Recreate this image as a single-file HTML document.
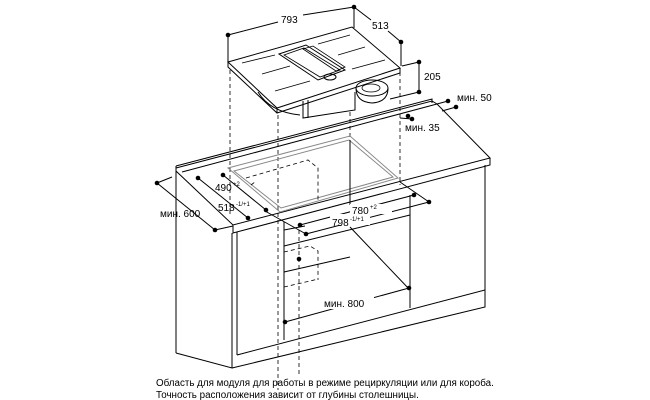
<!DOCTYPE html>
<html><head><meta charset="utf-8"><style>
html,body{margin:0;padding:0;background:#fff;width:650px;height:400px;overflow:hidden}
svg{display:block}
text{font-family:"Liberation Sans",sans-serif;font-size:10px;fill:#000}
.l{stroke:#000;stroke-width:1;fill:none}
.g{stroke:#888;stroke-width:1;fill:none}
.d{stroke:#000;stroke-width:0.8;fill:none;stroke-dasharray:4,3}
.t{stroke:#000;stroke-width:0.8;fill:none}
</style></head><body>
<svg width="650" height="400" viewBox="0 0 650 400">
<line class="d" x1="230" y1="70" x2="230" y2="215"/>
<line class="d" x1="278" y1="115" x2="278" y2="390"/>
<line class="d" x1="350" y1="112" x2="350" y2="140"/>
<line class="d" x1="400" y1="72" x2="400" y2="185"/>
<line class="d" x1="299" y1="230" x2="299" y2="375"/>

<polygon class="l" fill="#fff" points="228,62 352,27 400,68 277,108"/>
<polyline class="l" points="228,62 228,67 277,113 400,73 400,68"/>
<line class="l" x1="277" y1="108" x2="277" y2="113"/>
<line class="t" x1="242" y1="63" x2="275" y2="55"/>
<line class="t" x1="262" y1="74" x2="290" y2="66"/>
<line class="t" x1="275" y1="91" x2="310" y2="81"/>
<line class="t" x1="318" y1="44" x2="350" y2="35"/>
<line class="t" x1="338" y1="55" x2="365" y2="47"/>
<line class="t" x1="352" y1="69" x2="385" y2="60"/>
<polygon class="l" points="279,54 306,45 345,70 318,80"/>
<polygon class="t" points="284,55 304,48 340,70 320,77"/>
<polygon class="t" points="303,49 313,46 345,67 336,71"/>
<ellipse class="l" cx="330" cy="77" rx="6" ry="3" fill="#fff"/>
<path class="l" d="M258,92 Q270,112 300,115"/>
<polyline class="l" points="303,101 303,118 355,110 355,92"/>
<line class="l" x1="308" y1="100" x2="308" y2="118"/>
<ellipse class="l" cx="372" cy="88" rx="16" ry="8" fill="#fff"/>
<path class="l" d="M356,88 Q356,102 372,103 Q388,102 388,88"/>
<ellipse class="t" cx="371" cy="88" rx="9" ry="4"/>

<line class="l" x1="228" y1="35" x2="228" y2="62"/>
<line class="l" x1="354" y1="7" x2="354" y2="28"/>
<line class="l" x1="401" y1="42" x2="401" y2="66"/>
<line class="l" x1="228" y1="35" x2="278" y2="22"/>
<line class="l" x1="303" y1="15" x2="354" y2="7"/>
<line class="l" x1="354" y1="7" x2="371" y2="20"/>
<line class="l" x1="388" y1="31" x2="401" y2="42"/>
<text x="281" y="23">793</text>
<text x="372" y="29">513</text>
<line class="l" x1="419" y1="62" x2="419" y2="92"/>
<line class="l" x1="402" y1="66" x2="419" y2="62"/>
<line class="l" x1="390" y1="99" x2="419" y2="92"/>
<text x="424" y="80">205</text>

<polygon class="l" fill="#fff" points="176,168 432,101 437,104 490,158 233,225 176,171"/>
<polyline class="l" points="176,166 432,99 432,103"/>
<line class="l" x1="176" y1="166" x2="176" y2="171"/>
<polyline class="l" points="182,172 437,104"/>
<polyline class="l" points="233,225 233,233 490,165 490,158"/>
<polygon class="g" points="228,168 350,136 398,178 280,212" stroke-width="1.5"/>
<polygon class="g" points="234,171 349,140 393,177 281,208"/>
<line class="l" x1="350" y1="140" x2="350" y2="205"/>
<polyline class="d" points="246,178 308,160 318,168 318,200"/>
<line class="d" x1="251" y1="185" x2="255" y2="182"/>
<polyline class="d" points="284,252 310,246 318,251 318,280"/>
<polyline class="d" points="284,287 310,281 318,279"/>

<line class="l" x1="176" y1="171" x2="176" y2="353"/>
<polyline class="l" points="176,353 232,368 232,233"/>
<line class="l" x1="237" y1="232" x2="237" y2="355"/>
<polyline class="l" points="237,355 485,290 485,165"/>
<polyline class="l" points="232,368 485,307 485,290"/>
<line class="l" x1="284" y1="222" x2="284" y2="340"/>
<line class="l" x1="410" y1="195" x2="410" y2="308"/>
<line class="l" x1="284" y1="246" x2="410" y2="215"/>
<line class="l" x1="350" y1="227" x2="410" y2="290"/>
<line class="l" x1="284" y1="272" x2="350" y2="257"/>
<line class="l" x1="284" y1="230" x2="305" y2="226"/>

<line class="l" x1="157" y1="183" x2="215" y2="230"/>
<line class="l" x1="157" y1="183" x2="172" y2="177"/>
<line class="l" x1="215" y1="230" x2="233" y2="226"/>
<text x="160" y="217">мин. 600</text>
<line class="l" x1="223" y1="175" x2="266" y2="210"/>
<text x="215" y="191">490</text><text x="233" y="186" style="font-size:6px">+2</text>
<line class="l" x1="198" y1="178" x2="248" y2="218"/>
<text x="218" y="211">518</text><text x="236" y="206" style="font-size:6px">-1/+1</text>
<line class="l" x1="300" y1="225" x2="414" y2="195"/>
<line class="l" x1="306" y1="234" x2="429" y2="202"/>
<line class="l" x1="265" y1="211" x2="306" y2="234"/>
<line class="l" x1="400" y1="182" x2="429" y2="202"/>
<rect x="350" y="204" width="42" height="10" fill="#fff"/>
<text x="352" y="214">780</text><text x="370" y="209" style="font-size:6px">+2</text>
<rect x="330" y="214" width="40" height="11" fill="#fff"/>
<text x="332" y="226">798</text><text x="350" y="221" style="font-size:6px">-1/+1</text>
<line class="l" x1="285" y1="322" x2="409" y2="288"/>
<rect x="322" y="297" width="52" height="12" fill="#fff"/>
<text x="324" y="307">мин. 800</text>
<line class="l" x1="437" y1="104" x2="448" y2="101"/>
<line class="l" x1="442" y1="111" x2="456" y2="107"/>
<line class="l" x1="400" y1="118" x2="412" y2="119"/>
<text x="457" y="101">мин. 50</text>
<text x="405" y="131">мин. 35</text>

<g fill="#000">
<circle cx="228" cy="35" r="2.3"/><circle cx="354" cy="7" r="2.3"/><circle cx="401" cy="42" r="2.3"/>
<circle cx="419" cy="62" r="2.3"/><circle cx="419" cy="92" r="2.3"/>
<circle cx="448" cy="101" r="2.3"/><circle cx="456" cy="107" r="2.3"/>
<circle cx="408" cy="116" r="2.3"/><circle cx="412" cy="119" r="2.3"/>
<circle cx="157" cy="183" r="2.3"/><circle cx="215" cy="230" r="2.3"/>
<circle cx="223" cy="175" r="2.3"/><circle cx="266" cy="210" r="2.3"/>
<circle cx="198" cy="178" r="2.3"/><circle cx="248" cy="218" r="2.3"/>
<circle cx="414" cy="195" r="2.3"/><circle cx="300" cy="225" r="2.3"/>
<circle cx="429" cy="202" r="2.3"/><circle cx="306" cy="234" r="2.3"/>
<circle cx="409" cy="288" r="2.3"/><circle cx="285" cy="322" r="2.3"/>
<circle cx="299" cy="259" r="2.3"/>
</g>

<text x="156" y="386" style="font-size:9.8px">Область для модуля для работы в режиме рециркуляции или для короба.</text>
<text x="156" y="398" style="font-size:9.8px">Точность расположения зависит от глубины столешницы.</text>
</svg>
</body></html>
